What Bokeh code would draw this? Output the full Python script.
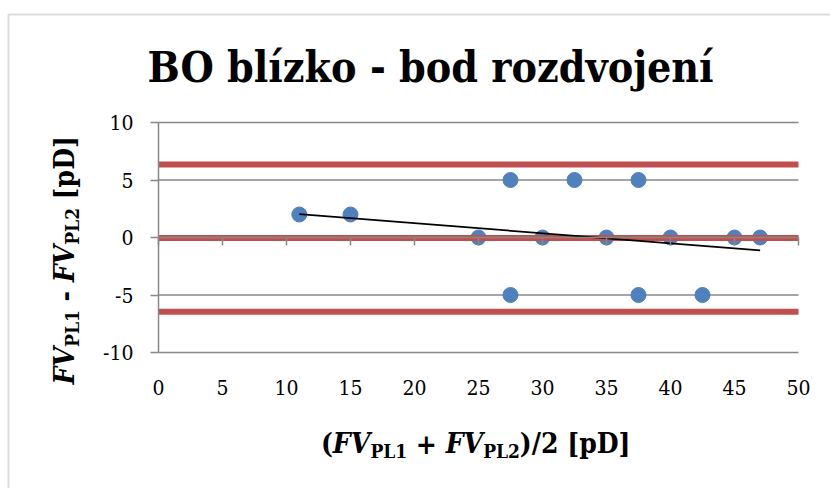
import math

from bokeh.embed import file_html
from bokeh.models import BoxAnnotation, FixedTicker, Label, LinearAxis, Range1d
from bokeh.plotting import figure
from bokeh.resources import INLINE

# Bland-Altman data: mean of the two readings vs. their difference [pD]
pair_mean = [11, 15, 25, 27.5, 27.5, 30, 32.5, 35, 37.5, 37.5, 40, 42.5, 45, 47]
pair_diff = [2, 2, 0, 5, -5, 0, 5, 0, 5, -5, 0, -5, 0, 0]

# bias and limits of agreement
bias = -0.05
upper_loa = 6.35
lower_loa = -6.45

# linear trend through the differences
trend_x = [11, 47]
trend_y = [2.03, -1.12]

x_ticks = [0, 5, 10, 15, 20, 25, 30, 35, 40, 45, 50]
y_ticks = [-10, -5, 0, 5, 10]
x_start, x_end = 0, 50
y_start, y_end = -10, 10

title_text = "BO blízko - bod rozdvojení"

W, H = 830, 488
# plot area edges on the canvas
PL, PR, PT, PB = 158, 798, 122, 352

# the frame spans the whole canvas; the data area sits inside it
xpx = (PR - PL) / (x_end - x_start)
ypx = (PB - PT) / (y_end - y_start)
x_range = Range1d(x_start - PL / xpx, x_end + (W - PR) / xpx)
y_range = Range1d(y_start - (H - PB) / ypx, y_end + PT / ypx)

GRAY = "#878787"
RED = "#C0504D"
BLUE = "#4F81BD"
SERIF = "DejaVu Serif Condensed, DejaVu Serif"
NARROW = 0.9  # condensed face relative to the regular one

p = figure(
    width=W, height=H, x_range=x_range, y_range=y_range,
    x_axis_type=None, y_axis_type=None,
    output_backend="svg", toolbar_location=None,
    min_border=0,
)
p.title.visible = False
p.outline_line_color = None
p.background_fill_color = "white"
p.border_fill_color = "white"

# horizontal gridlines across the data area
p.segment(x0=[x_start] * len(y_ticks), x1=[x_end] * len(y_ticks), y0=y_ticks, y1=y_ticks,
          line_color=GRAY, line_width=1.5)

tick_font = dict(major_label_text_font=SERIF, major_label_text_font_size="21px",
                 major_label_text_color="black")

# vertical axis at x = 0
yaxis = LinearAxis(
    ticker=FixedTicker(ticks=y_ticks), fixed_location=x_start,
    bounds=(y_start, y_end),
    axis_line_color=GRAY, axis_line_width=1.5,
    major_tick_line_color=GRAY, major_tick_line_width=1.5,
    major_tick_in=0, major_tick_out=8,
    minor_tick_line_color=None,
    major_label_standoff=17,
    major_label_overrides={t: str(t) for t in y_ticks},
    **tick_font,
)
p.add_layout(yaxis, "left")

# tick labels along the bottom of the data area
xlabels = LinearAxis(
    ticker=FixedTicker(ticks=x_ticks), fixed_location=y_start,
    bounds=(x_start, x_end),
    axis_line_color=None, major_tick_line_color=None,
    major_tick_in=0, major_tick_out=0,
    minor_tick_line_color=None,
    major_label_standoff=27,
    **tick_font,
)
p.add_layout(xlabels, "below")

# horizontal axis line with its ticks, crossing at zero (no labels)
xzero = LinearAxis(
    ticker=FixedTicker(ticks=x_ticks), fixed_location=0,
    bounds=(x_start, x_end),
    axis_line_color=GRAY, axis_line_width=1.5,
    major_tick_line_color=GRAY, major_tick_line_width=1.5,
    major_tick_in=0, major_tick_out=8,
    minor_tick_line_color=None,
    major_label_overrides={t: "" for t in x_ticks},
)
p.add_layout(xzero, "below")

# points
p.scatter(pair_mean, pair_diff, size=15, fill_color=BLUE, line_color=BLUE)

# bias and limits of agreement
levels = [upper_loa, bias, lower_loa]
p.segment(x0=[x_start] * 3, x1=[x_end] * 3, y0=levels, y1=levels,
          line_color=RED, line_width=6)

# trend line
p.line(trend_x, trend_y, line_color="black", line_width=1.8)


def sx(cx):
    return cx


def sy(cy):
    return H - cy


# outer chart border (left and top edges visible)
p.add_layout(BoxAnnotation(
    left=sx(8), right=sx(W + 50), top=sy(14), bottom=sy(H + 50),
    left_units="screen", right_units="screen",
    top_units="screen", bottom_units="screen",
    fill_alpha=0, line_color="#8a8a8a", line_width=2,
))

# title
p.add_layout(Label(
    x=sx(430), y=sy(66), x_units="screen", y_units="screen",
    text=title_text, text_align="center", text_baseline="alphabetic",
    text_font=SERIF, text_font_style="bold", text_font_size="42.5px",
    text_color="black",
))

# advance widths in em for the bold serif faces
BOLD = {" ": 0.348, "(": 0.473, ")": 0.473, "/": 0.365, "1": 0.696, "2": 0.696,
        "[": 0.473, "]": 0.473, "p": 0.716, "D": 0.831, "P": 0.732, "L": 0.712,
        "+": 0.838, "-": 0.415}
BOLDITAL = {"F": 0.72, "V": 0.77}


def part_width(text, style, size):
    table = BOLDITAL if "italic" in style else BOLD
    return sum(table[c] for c in text) * size * NARROW


MAIN, SUB, DROP = 28, 19, 7

x_label_parts = [("(", "bold", MAIN), ("FV", "bold italic", MAIN), ("PL1", "bold", SUB),
                 (" + ", "bold", MAIN), ("FV", "bold italic", MAIN), ("PL2", "bold", SUB),
                 (")/2 [pD]", "bold", MAIN)]
y_label_parts = [("FV", "bold italic", MAIN), ("PL1", "bold", SUB), (" - ", "bold", MAIN),
                 ("FV", "bold italic", MAIN), ("PL2", "bold", SUB), (" [pD]", "bold", MAIN)]


def lead(text, size):
    # leading blanks are collapsed in SVG text, so they become an offset
    return (len(text) - len(text.lstrip(" "))) * BOLD[" "] * size * NARROW


# horizontal axis title
total = sum(part_width(*pt) for pt in x_label_parts)
cx = (320 + 630) / 2 - total / 2
base = 443
for text, style, size in x_label_parts:
    drop = DROP if size == SUB else 0
    p.add_layout(Label(
        x=sx(cx + lead(text, size)), y=sy(base + drop), x_units="screen", y_units="screen",
        text=text.strip(" "), text_align="left", text_baseline="alphabetic",
        text_font=SERIF, text_font_style=style, text_font_size=f"{size}px",
        text_color="black",
    ))
    cx += part_width(text, style, size)

# vertical axis title, reading upwards
total = sum(part_width(*pt) for pt in y_label_parts)
cy = (133 + 387) / 2 + total / 2
base = 64
for text, style, size in y_label_parts:
    drop = DROP if size == SUB else 0
    p.add_layout(Label(
        x=sx(base + drop), y=sy(cy - lead(text, size)), x_units="screen", y_units="screen",
        angle=math.pi / 2,
        text=text.strip(" "), text_align="left", text_baseline="alphabetic",
        text_font=SERIF, text_font_style=style, text_font_size=f"{size}px",
        text_color="black",
    ))
    cy -= part_width(text, style, size)

open("out.html", "w").write(file_html(p, INLINE))
